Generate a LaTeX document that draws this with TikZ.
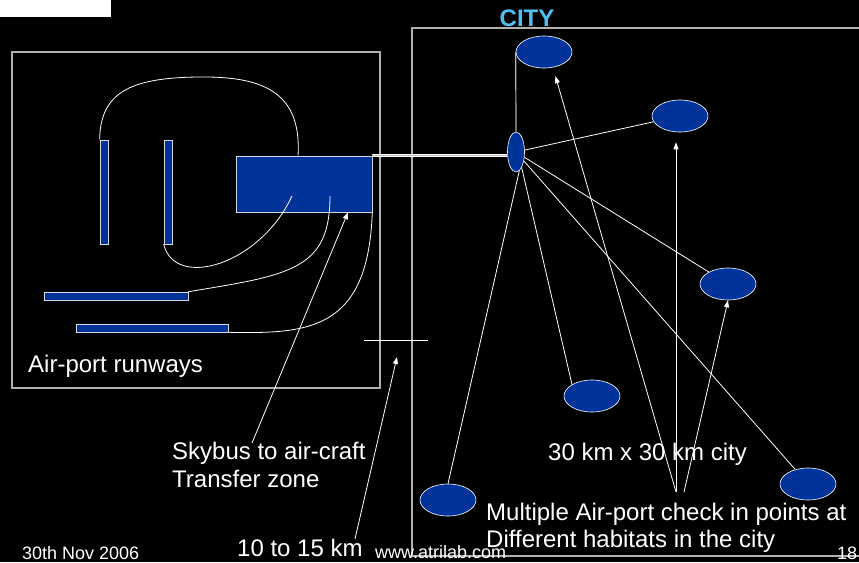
\documentclass[tikz,border=0pt]{standalone}
\usepackage{fontspec}
\setmainfont{Liberation Sans}
\usetikzlibrary{shapes.geometric,arrows.meta}
\definecolor{padblue}{RGB}{0,51,153}
\definecolor{citytext}{RGB}{80,190,240}
\definecolor{framegray}{RGB}{176,176,176}

\begin{document}
\begin{tikzpicture}[
    x=1pt, y=-1pt,
    every node/.style={inner sep=0pt, text=white},
    block/.style={rectangle, draw=white!85!black, line width=0.6pt, fill=padblue},
    hab/.style={ellipse, draw=white, line width=0.6pt, fill=padblue, minimum width=56pt, minimum height=32pt},
    bigtext/.style={font=\fontsize{24}{28}\selectfont, anchor=base west},
    smalltext/.style={font=\fontsize{18}{22}\selectfont, anchor=base west},
    boxline/.style={draw=framegray, line width=1.2pt},
    link/.style={draw=white, line width=0.8pt},
    arrow/.style={link, -{Triangle[length=7pt,width=5pt]}}
]
\useasboundingbox (0,0) rectangle (859,562);
\clip (0,0) rectangle (859,562);
\fill[black] (0,0) rectangle (859,562);
\fill[white] (0,0) rectangle (111,17);

\draw[boxline] (12,52) rectangle (380,388);
\draw[boxline] (412,28) rectangle (880,556);

\node[block, minimum width=8pt, minimum height=104pt] (rw1) at (104,192) {};
\node[block, minimum width=8pt, minimum height=104pt] (rw2) at (168,192) {};
\node[block, minimum width=144pt, minimum height=8pt] (rw3) at (116,296) {};
\node[block, minimum width=152pt, minimum height=8pt] (rw4) at (152,328) {};
\node[block, minimum width=136pt, minimum height=56pt] (term) at (304,184) {};

\draw[link] (rw1.north west) .. controls (100,90) and (135,78) .. (197,77)
    .. controls (260,76) and (302,90) .. ([xshift=-6pt]term.north);
\draw[link] (rw2.south west) .. controls (175,290) and (260,265) .. ([xshift=-12pt,yshift=-12pt]term.center);
\draw[link] (rw3.north east) .. controls (290,275) and (330,270) .. ([xshift=26pt,yshift=-12pt]term.center);
\draw[link] (rw4.south east) .. controls (310,334) and (368,330) .. (term.south east);

\node[hab, minimum width=17pt, minimum height=40pt] (hub) at (516,152) {};
\node[hab] (e1) at (544,52) {};
\node[hab] (e2) at (680,116) {};
\node[hab] (e3) at (728,284) {};
\node[hab] (e4) at (592,396) {};
\node[hab] (e5) at (448,500) {};
\node[hab] (e6) at (808,484) {};

\draw[link, double=white!75!black, double distance=1.5pt] (term.north east) -- (term.north east -| hub.west);
\draw[boxline] (hub.north) -- (e1.west);
\draw[link] (hub) -- (e2);
\draw[link] (hub) -- (e3);
\draw[link] (hub) -- (e6);
\draw[link] (hub.-70) -- (e4.north west);
\draw[link] (hub.-80) -- (e5.north);

\node[font=\bfseries\fontsize{24}{28}\selectfont, text=citytext, anchor=base] (city) at (527,27) {CITY};
\node[bigtext] (runways) at (28,372) {Air-port runways};
\node[bigtext, align=left] (skybus) at (172,487) {Skybus to air-craft\\Transfer zone};
\node[bigtext] (citysize) at (548,460) {30 km x 30 km city};
\node[bigtext, align=left, font=\fontsize{24}{27}\selectfont] (checkin) at (486,547) {Multiple Air-port check in points at\\Different habitats in the city};
\node[bigtext] (dist) at (237,556) {10 to 15 km};
\node[smalltext] (date) at (22,559) {30th Nov 2006};
\node[smalltext] (site) at (375,558) {www.atrilab.com};
\node[smalltext] (page) at (837,559) {18};

\coordinate (skytail) at (252,443);
\coordinate (kmtail) at (355,539);
\coordinate (mktip) at (397,357);
\coordinate (mkl) at (364,340);
\coordinate (mkr) at (428,340);
\coordinate (cktail) at (676,492);
\coordinate (cktail2) at (684,492);

\draw[arrow] (skytail) -- ([xshift=44pt]term.south);
\draw[link] (mkl) -- (mkr);
\draw[arrow] (kmtail) -- (mktip);
\draw[arrow, shorten >=9pt] (cktail) -- (e1.-60);
\draw[arrow, shorten >=10pt] (cktail) -- (cktail |- e2.south);
\draw[arrow] (cktail2) -- (e3.south);
\end{tikzpicture}
\end{document}
